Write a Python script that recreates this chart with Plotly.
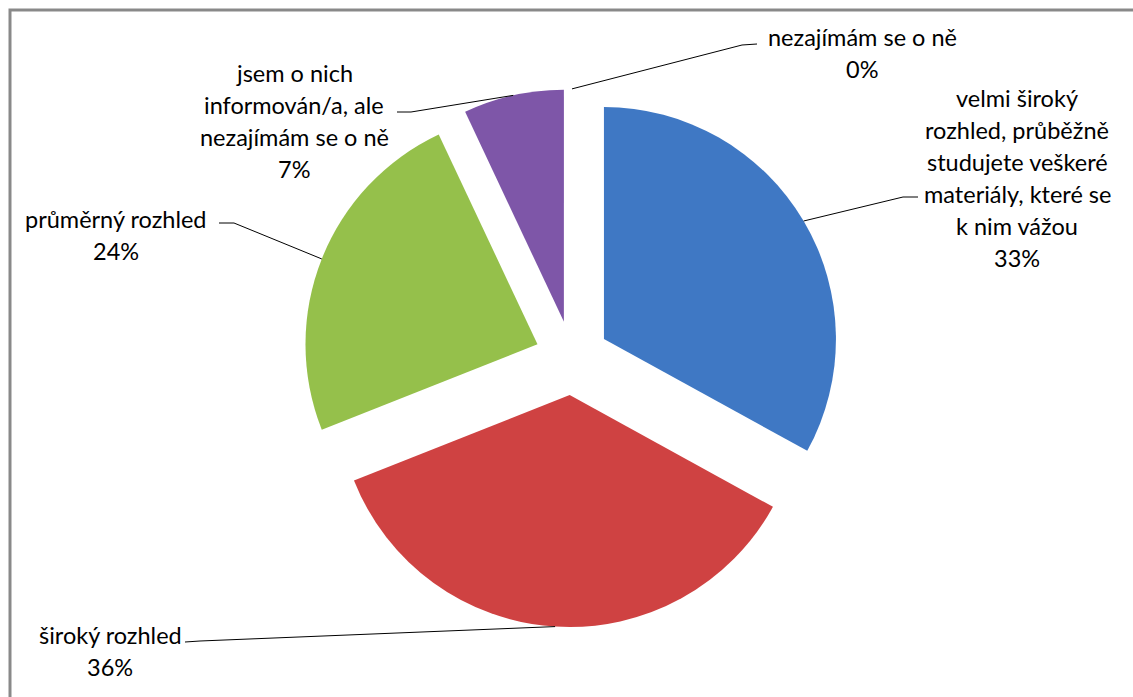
import math
import plotly.graph_objects as go

# ---- data ----
categories = [
    "velmi široký rozhled, průběžně studujete veškeré materiály, které se k nim vážou",
    "široký rozhled",
    "průměrný rozhled",
    "jsem o nich informován/a, ale nezajímám se o ně",
    "nezajímám se o ně",
]
values = [33, 36, 24, 7, 0]
label_lines = [
    ["velmi široký", "rozhled, průběžně", "studujete veškeré", "materiály, které se", "k nim vážou"],
    ["široký rozhled"],
    ["průměrný rozhled"],
    ["jsem o nich", "informován/a, ale", "nezajímám se o ně"],
    ["nezajímám se o ně"],
]
colors = ["#3F78C4", "#CF4242", "#95C04B", "#7E56A8", "#4BACC6"]

# ---- layout constants ----
W, H = 1133, 697
CX, CY, R, PULL = 572, 358, 232, 0.16
FONT = "Lato"
FS = 23.5
LINE_GAP = 32

# label placement (pixel): center x, y of first line, elbow point, end point near text
label_pos = [
    (1017, 98, (903, 197), (918, 197)),
    (110, 635, (200, 641), (185, 642)),
    (116, 219, (234, 223), (219, 223)),
    (294, 73, (411, 112), (397, 112)),
    (862, 37, (742, 45), (757, 44)),
]


def P(x, y):
    return x / W, 1 - y / H


box = 2 * R * (1 + PULL)
dom_x = [(CX - box / 2) / W, (CX + box / 2) / W]
dom_y = [1 - (CY + box / 2) / H, 1 - (CY - box / 2) / H]

fig = go.Figure(go.Pie(
    labels=categories,
    values=values,
    sort=False,
    direction="clockwise",
    rotation=0,
    pull=[PULL] * len(values),
    textinfo="none",
    hoverinfo="label+percent",
    marker=dict(colors=colors, line=dict(width=0)),
    domain=dict(x=dom_x, y=dom_y),
    showlegend=False,
))

total = sum(values)
shapes = []
annotations = []
cum = 0
for i, v in enumerate(values):
    mid = (cum + v / 2) / total * 2 * math.pi
    cum += v
    dist = R * (1 + PULL)
    sx = CX + dist * math.sin(mid)
    sy = CY - dist * math.cos(mid)
    cx, y0, elbow, end = label_pos[i]
    pts = [P(sx, sy), P(*elbow), P(*end)]
    path = "M {} {} L {} {} L {} {}".format(pts[0][0], pts[0][1], pts[1][0], pts[1][1], pts[2][0], pts[2][1])
    shapes.append(dict(type="path", xref="paper", yref="paper", path=path,
                       line=dict(color="#000000", width=1)))
    pct = round(v / total * 100)
    lines = label_lines[i] + [f"{pct}%"]
    for k, t in enumerate(lines):
        x, y = P(cx, y0 + k * LINE_GAP)
        annotations.append(dict(x=x, y=y, xref="paper", yref="paper", text=t,
                                showarrow=False, xanchor="center", yanchor="middle",
                                font=dict(family=FONT, size=FS, color="#000000")))

# chart border (cut off at right and bottom like the reference)
bx0, by0 = P(10, 10)
bx1, by1 = P(1150, 720)
shapes.append(dict(type="rect", xref="paper", yref="paper", x0=bx0, y0=by1, x1=bx1, y1=by0,
                   line=dict(color="#898989", width=3), fillcolor="rgba(0,0,0,0)"))

fig.update_layout(
    width=W, height=H,
    margin=dict(l=0, r=0, t=0, b=0),
    paper_bgcolor="white",
    plot_bgcolor="white",
    shapes=shapes,
    annotations=annotations,
)

fig.write_html("out.html", config={"displayModeBar": False},
               post_script="document.body.style.margin='0';")
